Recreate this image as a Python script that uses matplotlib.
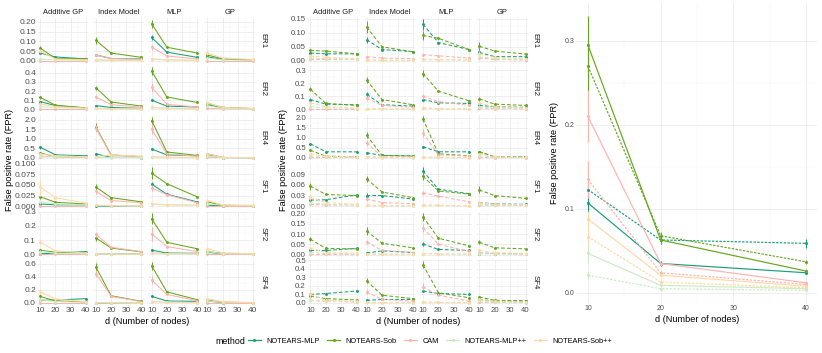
import matplotlib
matplotlib.use("Agg")
import matplotlib.pyplot as plt
from matplotlib.lines import Line2D

plt.rcParams['font.family'] = ['Liberation Sans', 'DejaVu Sans']

d_nodes = [10, 20, 40]
methods = ["NOTEARS-MLP", "NOTEARS-Sob", "CAM", "NOTEARS-MLP++", "NOTEARS-Sob++"]
colors = ["#1b9e77", "#66a61e", "#fbb4ae", "#ccebc5", "#fed9a6"]
functions = ["Additive GP", "Index Model", "MLP", "GP"]
graphs = ["ER1", "ER2", "ER4", "SF1", "SF2", "SF4"]

# left grid (solid lines): per graph -> per function -> per method [d=10, 20, 40]
solid_ER1 = [
    [[0.04, 0.02, 0.01], [0.065, 0.012, 0.01], [0.0, 0.0, 0.0], [0.01, 0.005, 0.003], [0.05, 0.01, 0.005]],
    [[0.03, 0.012, 0.01], [0.105, 0.04, 0.018], [0.03, 0.012, 0.008], [0.005, 0.003, 0.002], [0.005, 0.003, 0.002]],
    [[0.12, 0.045, 0.018], [0.19, 0.07, 0.04], [0.07, 0.025, 0.01], [0.01, 0.005, 0.003], [0.01, 0.005, 0.003]],
    [[0.02, 0.008, 0.005], [0.03, 0.01, 0.005], [0.0, 0.0, 0.0], [0.015, 0.005, 0.003], [0.04, 0.015, 0.007]],
]
solid_ER2 = [
    [[0.085, 0.04, 0.015], [0.13, 0.045, 0.015], [0.005, 0.005, 0.005], [0.03, 0.02, 0.01], [0.06, 0.03, 0.012]],
    [[0.04, 0.02, 0.01], [0.235, 0.08, 0.035], [0.135, 0.05, 0.025], [0.01, 0.005, 0.003], [0.01, 0.005, 0.003]],
    [[0.1, 0.035, 0.025], [0.42, 0.135, 0.075], [0.24, 0.055, 0.025], [0.02, 0.01, 0.005], [0.02, 0.01, 0.005]],
    [[0.05, 0.015, 0.008], [0.065, 0.02, 0.008], [0.01, 0.005, 0.003], [0.04, 0.01, 0.005], [0.07, 0.02, 0.01]],
]
solid_ER4 = [
    [[0.55, 0.15, 0.1], [0.25, 0.05, 0.03], [0.05, 0.05, 0.03], [0.1, 0.05, 0.03], [0.2, 0.1, 0.05]],
    [[0.2, 0.02, 0.01], [1.6, 0.15, 0.05], [1.55, 0.12, 0.06], [0.02, 0.01, 0.01], [0.05, 0.15, 0.08]],
    [[0.45, 0.15, 0.1], [1.95, 0.3, 0.12], [1.5, 0.2, 0.08], [0.05, 0.02, 0.01], [0.05, 0.02, 0.01]],
    [[0.2, 0.01, 0.005], [0.15, 0.01, 0.005], [0.02, 0.01, 0.005], [0.1, 0.01, 0.005], [0.2, 0.02, 0.01]],
]
solid_SF1 = [
    [[0.005, 0.003, 0.003], [0.022, 0.009, 0.005], [0.0, 0.0, 0.0], [0.01, 0.005, 0.003], [0.045, 0.02, 0.007]],
    [[0.0, 0.0, 0.001], [0.045, 0.02, 0.01], [0.035, 0.013, 0.008], [0.002, 0.001, 0.001], [0.002, 0.001, 0.001]],
    [[0.052, 0.028, 0.01], [0.078, 0.053, 0.022], [0.043, 0.027, 0.008], [0.005, 0.003, 0.002], [0.005, 0.003, 0.002]],
    [[0.002, 0.001, 0.001], [0.01, 0.002, 0.001], [0.0, 0.0, 0.0], [0.005, 0.002, 0.001], [0.013, 0.003, 0.002]],
]
solid_SF2 = [
    [[0.005, 0.01, 0.02], [0.03, 0.015, 0.01], [0.0, 0.0, 0.0], [0.02, 0.01, 0.005], [0.085, 0.025, 0.01]],
    [[0.005, 0.003, 0.003], [0.115, 0.045, 0.018], [0.14, 0.05, 0.02], [0.005, 0.003, 0.002], [0.005, 0.003, 0.002]],
    [[0.03, 0.01, 0.008], [0.25, 0.085, 0.04], [0.145, 0.055, 0.02], [0.01, 0.005, 0.003], [0.01, 0.005, 0.003]],
    [[0.015, 0.005, 0.003], [0.02, 0.008, 0.003], [0.0, 0.0, 0.0], [0.02, 0.006, 0.003], [0.04, 0.012, 0.005]],
]
solid_SF4 = [
    [[0.04, 0.045, 0.065], [0.1, 0.03, 0.015], [0.0, 0.0, 0.0], [0.05, 0.02, 0.01], [0.17, 0.06, 0.02]],
    [[0.0, 0.0, 0.005], [0.55, 0.11, 0.025], [0.45, 0.1, 0.02], [0.005, 0.003, 0.002], [0.005, 0.003, 0.002]],
    [[0.1, 0.03, 0.025], [0.57, 0.17, 0.05], [0.35, 0.13, 0.035], [0.02, 0.01, 0.005], [0.02, 0.01, 0.005]],
    [[0.03, 0.005, 0.003], [0.05, 0.01, 0.003], [0.0, 0.0, 0.0], [0.03, 0.01, 0.003], [0.06, 0.02, 0.005]],
]
# error half-widths at d=10, per function -> per method
solid_err_ER1 = [[0.005, 0.012, 0.001, 0.005, 0.012], [0.004, 0.018, 0.005, 0.002, 0.002],
                 [0.015, 0.02, 0.012, 0.003, 0.003], [0.006, 0.008, 0.001, 0.005, 0.01]]
solid_err_ER2 = [[0.01, 0.015, 0.002, 0.01, 0.015], [0.005, 0.02, 0.02, 0.003, 0.003],
                 [0.012, 0.04, 0.05, 0.005, 0.005], [0.01, 0.01, 0.003, 0.01, 0.01]]
solid_err_ER4 = [[0.08, 0.05, 0.01, 0.03, 0.05], [0.04, 0.2, 0.15, 0.01, 0.02],
                 [0.05, 0.2, 0.25, 0.02, 0.02], [0.05, 0.05, 0.01, 0.03, 0.05]]
solid_err_SF1 = [[0.002, 0.006, 0.001, 0.005, 0.02], [0.001, 0.007, 0.006, 0.001, 0.001],
                 [0.006, 0.015, 0.008, 0.002, 0.002], [0.001, 0.003, 0.001, 0.002, 0.004]]
solid_err_SF2 = [[0.003, 0.008, 0.001, 0.01, 0.02], [0.002, 0.02, 0.02, 0.002, 0.002],
                 [0.005, 0.04, 0.05, 0.004, 0.004], [0.005, 0.005, 0.001, 0.01, 0.01]]
solid_err_SF4 = [[0.01, 0.03, 0.002, 0.02, 0.04], [0.002, 0.07, 0.05, 0.002, 0.002],
                 [0.01, 0.06, 0.06, 0.01, 0.01], [0.01, 0.015, 0.002, 0.01, 0.02]]

# middle grid (dashed lines)
dash_ER1 = [
    [[0.028, 0.025, 0.025], [0.037, 0.035, 0.025], [0.005, 0.005, 0.005], [0.01, 0.008, 0.006], [0.017, 0.013, 0.008]],
    [[0.075, 0.04, 0.033], [0.12, 0.05, 0.032], [0.015, 0.01, 0.008], [0.003, 0.002, 0.002], [0.003, 0.002, 0.002]],
    [[0.13, 0.065, 0.04], [0.09, 0.08, 0.04], [0.022, 0.018, 0.01], [0.005, 0.004, 0.003], [0.005, 0.004, 0.003]],
    [[0.03, 0.015, 0.015], [0.052, 0.035, 0.024], [0.01, 0.005, 0.003], [0.015, 0.008, 0.005], [0.025, 0.012, 0.008]],
]
dash_ER2 = [
    [[0.075, 0.04, 0.035], [0.155, 0.045, 0.03], [0.005, 0.005, 0.005], [0.02, 0.01, 0.008], [0.05, 0.02, 0.012]],
    [[0.115, 0.035, 0.025], [0.225, 0.075, 0.035], [0.085, 0.03, 0.015], [0.005, 0.003, 0.002], [0.005, 0.003, 0.002]],
    [[0.075, 0.05, 0.045], [0.275, 0.14, 0.065], [0.1, 0.06, 0.03], [0.01, 0.005, 0.003], [0.01, 0.005, 0.003]],
    [[0.03, 0.02, 0.015], [0.08, 0.04, 0.03], [0.01, 0.005, 0.003], [0.02, 0.01, 0.008], [0.05, 0.02, 0.012]],
]
dash_ER4 = [
    [[0.7, 0.3, 0.3], [0.38, 0.08, 0.05], [0.02, 0.02, 0.02], [0.1, 0.05, 0.03], [0.2, 0.08, 0.05]],
    [[0.25, 0.12, 0.1], [1.12, 0.12, 0.08], [0.75, 0.05, 0.05], [0.02, 0.01, 0.01], [0.05, 0.03, 0.02]],
    [[0.55, 0.3, 0.3], [1.95, 0.2, 0.1], [1.25, 0.15, 0.08], [0.03, 0.02, 0.01], [0.03, 0.02, 0.01]],
    [[0.3, 0.05, 0.05], [0.3, 0.05, 0.04], [0.02, 0.01, 0.01], [0.1, 0.03, 0.02], [0.2, 0.05, 0.03]],
]
dash_SF1 = [
    [[0.017, 0.018, 0.032], [0.057, 0.033, 0.03], [0.005, 0.003, 0.003], [0.01, 0.005, 0.003], [0.025, 0.01, 0.005]],
    [[0.03, 0.03, 0.02], [0.077, 0.04, 0.024], [0.02, 0.01, 0.007], [0.002, 0.001, 0.001], [0.002, 0.001, 0.001]],
    [[0.1, 0.048, 0.035], [0.085, 0.043, 0.034], [0.038, 0.028, 0.012], [0.003, 0.002, 0.001], [0.003, 0.002, 0.001]],
    [[0.01, 0.006, 0.005], [0.046, 0.03, 0.022], [0.003, 0.002, 0.002], [0.005, 0.003, 0.002], [0.01, 0.005, 0.004]],
]
dash_SF2 = [
    [[0.02, 0.02, 0.03], [0.075, 0.03, 0.028], [0.003, 0.003, 0.003], [0.01, 0.005, 0.003], [0.03, 0.01, 0.006]],
    [[0.008, 0.018, 0.01], [0.115, 0.055, 0.033], [0.062, 0.02, 0.01], [0.003, 0.002, 0.001], [0.003, 0.002, 0.001]],
    [[0.052, 0.025, 0.02], [0.185, 0.08, 0.042], [0.13, 0.05, 0.015], [0.005, 0.003, 0.002], [0.005, 0.003, 0.002]],
    [[0.005, 0.005, 0.003], [0.06, 0.033, 0.028], [0.01, 0.005, 0.003], [0.005, 0.003, 0.002], [0.02, 0.01, 0.005]],
]
dash_SF4 = [
    [[0.1, 0.11, 0.14], [0.08, 0.05, 0.035], [0.03, 0.02, 0.01], [0.03, 0.02, 0.01], [0.1, 0.03, 0.02]],
    [[0.03, 0.04, 0.04], [0.26, 0.09, 0.05], [0.13, 0.04, 0.02], [0.005, 0.003, 0.002], [0.005, 0.003, 0.002]],
    [[0.14, 0.11, 0.1], [0.45, 0.12, 0.06], [0.19, 0.09, 0.02], [0.01, 0.005, 0.003], [0.01, 0.005, 0.003]],
    [[0.04, 0.02, 0.02], [0.07, 0.03, 0.025], [0.01, 0.005, 0.003], [0.02, 0.01, 0.005], [0.04, 0.02, 0.01]],
]
dash_err_ER1 = [[0.005, 0.006, 0.002, 0.005, 0.006], [0.01, 0.02, 0.004, 0.002, 0.002],
                [0.02, 0.015, 0.005, 0.002, 0.002], [0.01, 0.015, 0.004, 0.006, 0.01]]
dash_err_ER2 = [[0.01, 0.015, 0.002, 0.01, 0.015], [0.02, 0.025, 0.015, 0.002, 0.002],
                [0.01, 0.03, 0.02, 0.005, 0.005], [0.01, 0.015, 0.004, 0.01, 0.015]]
dash_err_ER4 = [[0.06, 0.06, 0.01, 0.04, 0.06], [0.03, 0.15, 0.15, 0.01, 0.02],
                [0.06, 0.15, 0.2, 0.01, 0.01], [0.05, 0.05, 0.01, 0.04, 0.05]]
dash_err_SF1 = [[0.004, 0.01, 0.002, 0.005, 0.008], [0.006, 0.008, 0.005, 0.001, 0.001],
                [0.01, 0.012, 0.006, 0.001, 0.001], [0.003, 0.01, 0.001, 0.002, 0.004]]
dash_err_SF2 = [[0.006, 0.01, 0.001, 0.005, 0.01], [0.003, 0.02, 0.01, 0.001, 0.001],
                [0.01, 0.02, 0.02, 0.002, 0.002], [0.003, 0.01, 0.003, 0.002, 0.008]]
dash_err_SF4 = [[0.02, 0.02, 0.01, 0.02, 0.04], [0.005, 0.03, 0.03, 0.002, 0.002],
                [0.015, 0.04, 0.04, 0.005, 0.005], [0.01, 0.015, 0.003, 0.01, 0.015]]

# right panel: averaged curves
avg_solid = [[0.107, 0.035, 0.024], [0.295, 0.063, 0.026], [0.21, 0.035, 0.012],
             [0.047, 0.009, 0.005], [0.088, 0.021, 0.008]]
avg_dotted = [[0.123, 0.063, 0.059], [0.27, 0.068, 0.037], [0.135, 0.024, 0.01],
              [0.021, 0.005, 0.003], [0.067, 0.013, 0.006]]
avg_solid_err = [[0.012, 0.003, 0.002], [0.035, 0.005, 0.002], [0.03, 0.002, 0.002],
                 [0.01, 0.001, 0.001], [0.01, 0.002, 0.001]]
avg_dotted_err = [[0.01, 0.005, 0.005], [0.03, 0.004, 0.002], [0.022, 0.002, 0.001],
                  [0.005, 0.001, 0.001], [0.01, 0.002, 0.001]]

solid_rows = [solid_ER1, solid_ER2, solid_ER4, solid_SF1, solid_SF2, solid_SF4]
solid_errs = [solid_err_ER1, solid_err_ER2, solid_err_ER4, solid_err_SF1, solid_err_SF2, solid_err_SF4]
dash_rows = [dash_ER1, dash_ER2, dash_ER4, dash_SF1, dash_SF2, dash_SF4]
dash_errs = [dash_err_ER1, dash_err_ER2, dash_err_ER4, dash_err_SF1, dash_err_SF2, dash_err_SF4]

solid_ylims = [(-0.011, 0.22), (-0.023, 0.47), (-0.11, 2.25), (-0.005, 0.1015), (-0.015, 0.30), (-0.032, 0.66)]
solid_yticks = [[0, 0.05, 0.10, 0.15, 0.20], [0, 0.1, 0.2, 0.3, 0.4], [0, 0.5, 1.0, 1.5, 2.0],
                [0, 0.025, 0.05, 0.075, 0.1], [0, 0.1, 0.2, 0.3], [0, 0.2, 0.4, 0.6]]
solid_yfmt = ["{:.2f}", "{:.1f}", "{:.1f}", "{:.3f}", "{:.1f}", "{:.1f}"]
dash_ylims = [(-0.0075, 0.152), (-0.016, 0.33), (-0.1, 2.15), (-0.006, 0.122), (-0.01, 0.21), (-0.025, 0.505)]
dash_yticks = [[0, 0.05, 0.10, 0.15], [0, 0.1, 0.2, 0.3], [0, 0.5, 1.0, 1.5, 2.0],
               [0, 0.03, 0.06, 0.09], [0, 0.05, 0.1, 0.15, 0.2], [0, 0.1, 0.2, 0.3, 0.4, 0.5]]
dash_yfmt = ["{:.2f}", "{:.1f}", "{:.1f}", "{:.2f}", "{:.2f}", "{:.1f}"]

W, H = 822, 353
fig = plt.figure(figsize=(W / 100, H / 100), dpi=100)
tick_col = "#4d4d4d"
title_fs = 6.6


def px_axes(x, y, w, h):
    return fig.add_axes([x / W, 1 - (y + h) / H, w / W, h / H])


def style_axes(ax, xticks, yticks, minor_x, minor_y, fs):
    ax.set_facecolor("white")
    for s in ax.spines.values():
        s.set_visible(False)
    ax.set_xticks(xticks)
    ax.set_yticks(yticks)
    ax.set_xticks(minor_x, minor=True)
    ax.set_yticks(minor_y, minor=True)
    ax.grid(which="major", color="#ebebeb", lw=0.6)
    ax.grid(which="minor", color="#f4f4f4", lw=0.35)
    ax.set_axisbelow(True)
    ax.tick_params(which="both", length=0, labelsize=fs, labelcolor=tick_col, pad=1.5)


def draw_grid(x0, col_step, col_w, rows, errs, ylims, yticks, yfmt, ls, strip_x, fs):
    y0, row_step, row_h = 18, 48.4, 45
    for r in range(6):
        for c in range(4):
            ax = px_axes(x0 + c * col_step, y0 + r * row_step, col_w, row_h)
            yt = yticks[r]
            minor_y = [(yt[i] + yt[i + 1]) / 2 for i in range(len(yt) - 1)]
            style_axes(ax, [10, 20, 30, 40], yt, [15, 25, 35], minor_y, fs)
            ax.set_xlim(8.5, 41.5)
            ax.set_ylim(*ylims[r])
            for m in range(5):
                vals = rows[r][c][m]
                ax.plot(d_nodes, vals, color=colors[m], lw=0.75, ls=ls, marker="o", ms=1.1,
                        dashes=(3.5, 2) if ls == "--" else (None, None))
                e = errs[r][c][m]
                ax.vlines(d_nodes[0], vals[0] - e, vals[0] + e, color=colors[m], lw=0.7)
            if c == 0:
                ax.set_yticklabels([yfmt[r].format(v) for v in yt])
            else:
                ax.set_yticklabels([])
            if r == 5:
                ax.set_xticklabels(["10", "20", "30", "40"])
            else:
                ax.set_xticklabels([])
            if r == 0:
                ax.set_title(functions[c], fontsize=5.4, color="#1a1a1a", pad=3)
        fig.text(strip_x / W, 1 - (y0 + r * row_step + row_h / 2) / H, graphs[r], rotation=270,
                 fontsize=5.6, color="#1a1a1a", ha="center", va="center")


draw_grid(38, 55.7, 50, solid_rows, solid_errs, solid_ylims, solid_yticks, solid_yfmt, "-", 263, 6.0)
draw_grid(308, 56.3, 51, dash_rows, dash_errs, dash_ylims, dash_yticks, dash_yfmt, "--", 535, 5.6)

# axis titles for grids
fig.text(10 / W, 1 - 160 / H, "False positive rate (FPR)", rotation=90, fontsize=title_fs,
         ha="center", va="center")
fig.text(283 / W, 1 - 160 / H, "False positive rate (FPR)", rotation=90, fontsize=title_fs,
         ha="center", va="center")
fig.text(147 / W, 1 - 321 / H, "d (Number of nodes)", fontsize=title_fs, ha="center", va="center")
fig.text(418 / W, 1 - 321 / H, "d (Number of nodes)", fontsize=title_fs, ha="center", va="center")

# right panel
axr = px_axes(577, 3, 240, 300)
style_axes(axr, [10, 20, 30, 40], [0.0, 0.1, 0.2, 0.3], [15, 25, 35], [0.05, 0.15, 0.25], 5.0)
axr.set_yticklabels(["0.0", "0.1", "0.2", "0.3"])
axr.set_xlim(8.5, 41.5)
axr.set_ylim(-0.012, 0.345)
for m in range(5):
    axr.errorbar(d_nodes, avg_solid[m], yerr=avg_solid_err[m], color=colors[m], lw=0.85,
                 elinewidth=0.8, marker="o", ms=1.2, capsize=0)
    axr.errorbar(d_nodes, avg_dotted[m], yerr=avg_dotted_err[m], color=colors[m], lw=0.85,
                 elinewidth=0.8, marker="o", ms=1.2, capsize=0, ls=(0, (2, 1.2)))
axr.set_xlabel("d (Number of nodes)", fontsize=title_fs, labelpad=2)
axr.set_ylabel("False positive rate (FPR)", fontsize=title_fs, labelpad=4)

# legend
fig.text(215 / W, 1 - 341 / H, "method", fontsize=6.4, ha="left", va="center")
handles = [Line2D([], [], color=colors[m], lw=0.9, marker="o", ms=1.2) for m in range(5)]
fig.legend(handles, methods, loc="center left", bbox_to_anchor=(248 / W, 1 - 341 / H), ncol=5,
           frameon=False, fontsize=5.3, handlelength=1.7, handletextpad=0.8, columnspacing=1.0,
           borderaxespad=0, borderpad=0)

fig.savefig("out.png", dpi=100, facecolor="white")
